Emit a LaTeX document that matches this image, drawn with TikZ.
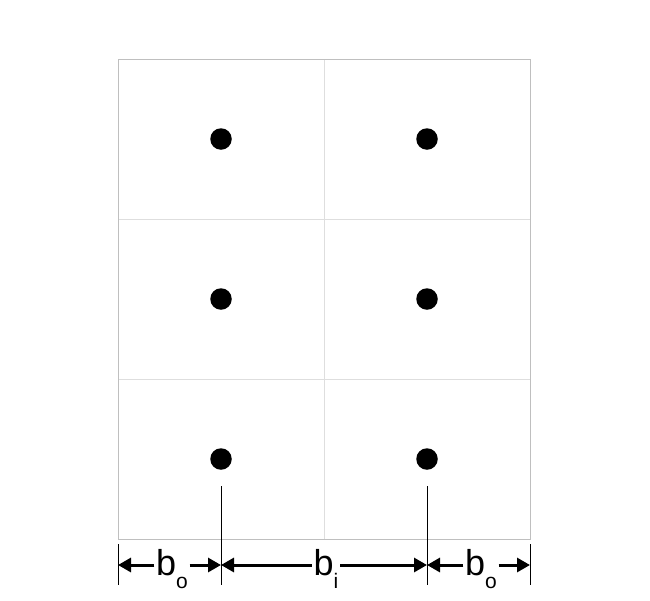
\documentclass[tikz,border=0pt]{standalone}
\usepackage{fontspec}
\setmainfont{Liberation Sans}
\usetikzlibrary{arrows.meta}
\begin{document}
\begin{tikzpicture}[x=1pt,y=-1pt,
  outerline/.style={draw=black!25,line width=1pt},
  innerline/.style={draw=black!13,line width=1pt},
  dot/.style={circle,fill=black,minimum size=21.5pt,inner sep=0pt},
  extline/.style={line width=0.9pt},
  dimline/.style={line width=3pt,-{Triangle[length=13pt,width=14pt]}},
  lab/.style={inner sep=1.5pt,anchor=base,font=\fontsize{36}{36}\selectfont}]
\useasboundingbox (0,0) rectangle (650,600);
% grid
\draw[innerline] (324,59) -- (324,539);
\draw[innerline] (118,219) -- (530,219);
\draw[innerline] (118,379) -- (530,379);
\draw[outerline] (118,59) rectangle (530,539);
% dots
\foreach \c/\x in {a/221,b/427}{
  \foreach \r/\y in {1/139,2/299,3/459}{
    \node[dot] (d\c\r) at (\x,\y) {};
  }
}
% extension lines
\coordinate (v1t) at (118,544); \coordinate (v1b) at (118,585);
\coordinate (v2t) at (221,486); \coordinate (v2b) at (221,585);
\coordinate (v3t) at (427,486); \coordinate (v3b) at (427,585);
\coordinate (v4t) at (530,544); \coordinate (v4b) at (530,585);
\draw[extline] (v1t) -- (v1b);
\draw[extline] (v2t) -- (v2b);
\draw[extline] (v3t) -- (v3b);
\draw[extline] (v4t) -- (v4b);
% labels
\node[lab] (l1) at (172,575) {b\raisebox{-13pt}{\fontsize{21}{21}\selectfont o}};
\node[lab] (l2) at (326,575) {b\raisebox{-13pt}{\fontsize{21}{21}\selectfont i}};
\node[lab] (l3) at (481,575) {b\raisebox{-13pt}{\fontsize{21}{21}\selectfont o}};
\coordinate (ay) at (0,565);
\draw[dimline] (l1.west |- ay) -- (v1b |- ay);
\draw[dimline] (l1.east |- ay) -- (v2b |- ay);
\draw[dimline] (l2.west |- ay) -- (v2b |- ay);
\draw[dimline] (l2.east |- ay) -- (v3b |- ay);
\draw[dimline] (l3.west |- ay) -- (v3b |- ay);
\draw[dimline] (l3.east |- ay) -- (v4b |- ay);
\end{tikzpicture}
\end{document}
